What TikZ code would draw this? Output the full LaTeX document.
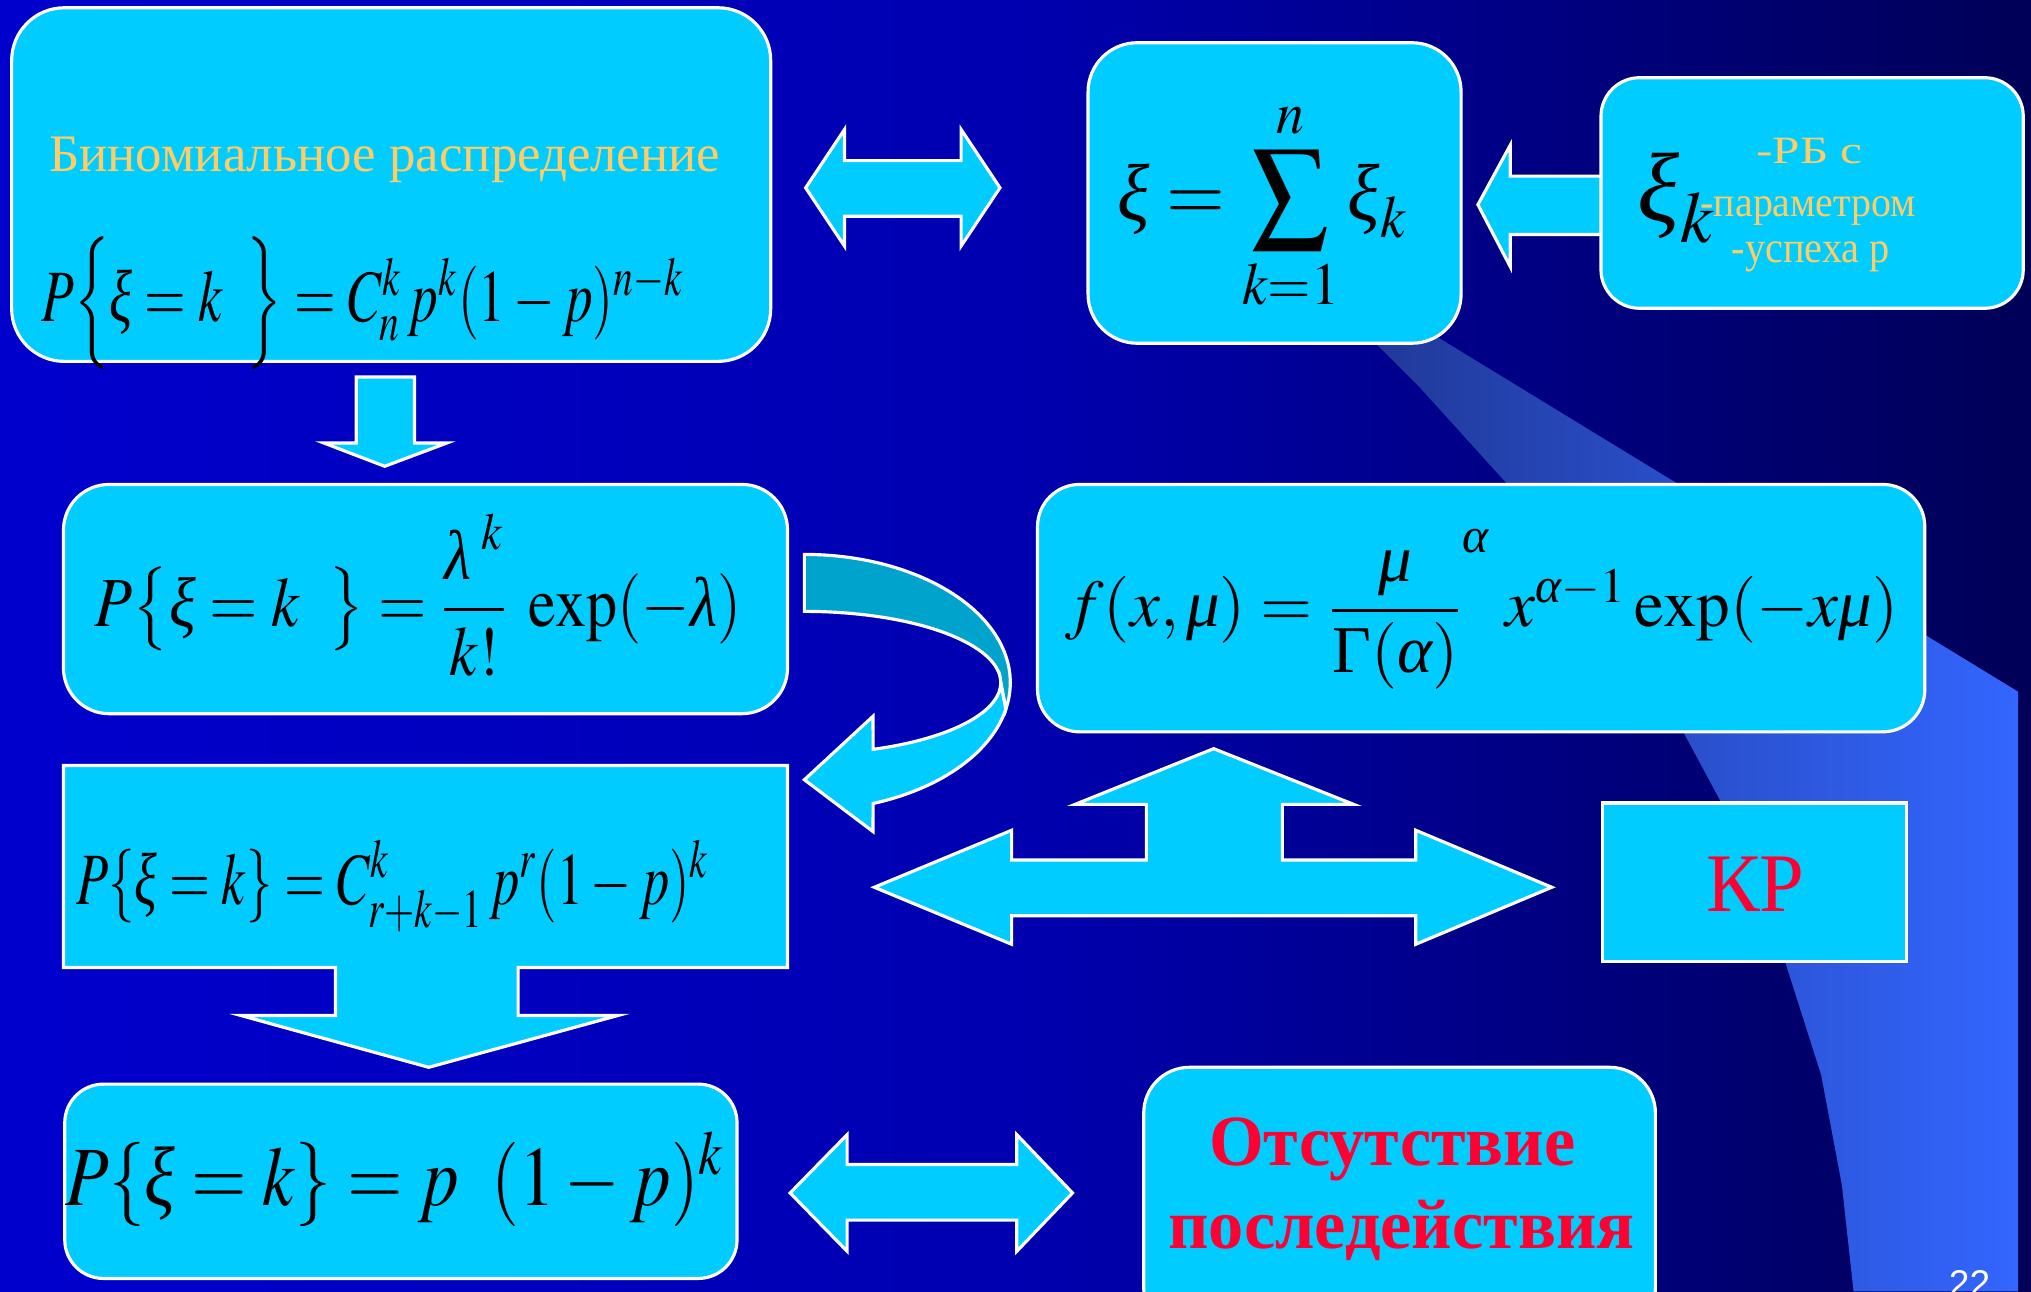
\documentclass[tikz,border=0pt]{standalone}
\usepackage{amsmath}
\usepackage{mathptmx}
\usepackage{fontspec}
\setmainfont{Liberation Serif}
\setsansfont{Liberation Sans}
\usetikzlibrary{positioning, fit}

\definecolor{skycyan}{RGB}{0,204,255}
\definecolor{backcyan}{RGB}{0,163,204}
\definecolor{peach}{RGB}{255,204,102}
\definecolor{alertred}{RGB}{255,0,51}
\definecolor{wedgeblue}{RGB}{51,102,255}
\definecolor{wedgedark}{RGB}{32,56,150}

\pgfdeclarehorizontalshading{slidebg}{100bp}{rgb(0bp)=(0,0,0.92); rgb(50bp)=(0,0,0.69); rgb(70bp)=(0,0,0.41); rgb(85bp)=(0,0,0.2); rgb(100bp)=(0,0,0.02)}

% text squeezed or stretched to a given width, height kept
\newcommand{\fitw}[2]{\resizebox{#1}{\height}{#2}}
% italic Greek from the text font
\newcommand{\gxi}{\text{\itshape ξ}}
\newcommand{\glam}{\text{\itshape λ}}
\newcommand{\gmu}{\text{\itshape μ}}
\newcommand{\galpha}{\text{\itshape α}}
\newcommand{\gGamma}{\text{Γ}}

\tikzset{
  card/.style={fill=skycyan, draw=white, line width=0.9pt, rounded corners=13pt, inner sep=0pt},
  flatcard/.style={fill=skycyan, draw=white, line width=0.9pt, inner sep=0pt},
  blockarrow/.style={fill=skycyan, draw=white, line width=0.9pt},
  formula/.style={inner sep=0pt, text=black},
  caption/.style={inner sep=0pt, text=peach},
  alert/.style={inner sep=0pt, text=alertred}
}

\begin{document}
\begin{tikzpicture}[x=0.012953cm, y=-0.012953cm]
  \useasboundingbox (0,0) rectangle (1568,997);
  \clip (0,0) rectangle (1568,997);
  % background
  \shade[shading=slidebg] (0,0) rectangle (1568,997);
  \shade[left color=wedgedark, middle color=wedgeblue, right color=wedgeblue]
    (1047,250) -- (1093,250) -- (1558,534) -- (1558,997) -- (1431,997) -- (1422,915)
    -- (1406,830) -- (1378,742) -- (1328,618) -- (1300,566) -- (1163,373) -- (1096,299) -- cycle;

  % top row
  \node[card, rounded corners=15pt, fit={(9,6) (595,279)}] (binom) {};
  \node[card, rounded corners=14pt, fit={(840,33) (1128,265)}] (sum) {};
  \filldraw[blockarrow] (1141,158) -- (1166,112) -- (1166,136) -- (1250,136)
    -- (1250,181) -- (1166,181) -- (1166,206) -- cycle;
  \node[card, rounded corners=11pt, fit={(1236,60) (1562,238)}] (bern) {};
  \filldraw[blockarrow] (622,145) -- (652,100) -- (652,124) -- (742,124) -- (742,100)
    -- (772,145) -- (742,190) -- (742,167) -- (652,167) -- (652,190) -- cycle;
  \filldraw[blockarrow] (275,291) -- (320,291) -- (320,342) -- (345,342) -- (297,360)
    -- (250,342) -- (275,342) -- cycle;

  % middle rows
  \node[card, fit={(49,374) (608,551)}] (poisson) {};
  \filldraw[blockarrow, fill=backcyan]
    plot[domain=90:-12, samples=40] ({621+159*cos(\x)},{527-99*sin(\x)})
    -- plot[domain=0:90, samples=40] ({621+151.6*cos(\x)},{527-55*sin(\x)}) -- cycle;
  \filldraw[blockarrow]
    plot[domain=-12:-70.5, samples=40] ({621+159*cos(\x)},{527-99*sin(\x)})
    -- (674,642) -- (621,602) -- (674,553)
    -- plot[domain=-69.5:0, samples=40] ({621+151.6*cos(\x)},{527-55*sin(\x)}) -- cycle;
  \filldraw[blockarrow] (49,591) -- (608,591) -- (608,747) -- (400,747) -- (400,784)
    -- (477,784) -- (331,824) -- (186,784) -- (259,784) -- (259,747) -- (49,747) -- cycle;
  \node[card, rounded corners=12pt, fit={(801,374) (1486,565)}] (gamma) {};
  \filldraw[blockarrow] (675,685) -- (781,641) -- (781,664) -- (885,664) -- (885,621)
    -- (830,621) -- (937,578) -- (1045,621) -- (990,621) -- (990,664) -- (1093,664)
    -- (1093,641) -- (1198,685) -- (1093,729) -- (1093,707) -- (781,707) -- (781,729) -- cycle;
  \node[flatcard, fit={(1237,620) (1472,742)}] (kr) {};

  % bottom row
  \node[card, rounded corners=11pt, fit={(50,837) (569,987)}] (geom) {};
  \filldraw[blockarrow] (610,921) -- (654,876) -- (654,899) -- (785,899) -- (785,876)
    -- (828,921) -- (785,966) -- (785,942) -- (654,942) -- (654,966) -- cycle;
  \node[card, fit={(883,824) (1278,1030)}] (noaft) {};

  % texts
  \node[caption, anchor=base west, font=\fontsize{15}{18}\selectfont] (binomtitle) at (37.4,132.6)
    {\fitw{191pt}{Биномиальное распределение}};
  \node[formula, anchor=base west, font=\fontsize{21}{25}\selectfont] (binomf) at (31.5,248.5)
    {\fitw{182.8pt}{$P\Bigl\{\gxi=k\;\;\Bigr\}=C_n^k\,p^k(1-p)^{n-k}$}};
  \node[formula, anchor=base west, font=\fontsize{23}{28}\selectfont] (sumf) at (862,170)
    {\fitw{82.6pt}{$\gxi=\displaystyle\sum_{k=1}^{n}\gxi_k$}};
  \node[formula, anchor=base west, font=\fontsize{28}{34}\selectfont] (xik) at (1264,171)
    {\fitw{22pt}{$\gxi_k$}};
  \node[caption, anchor=base, font=\fontsize{11}{13}\selectfont] (rb1) at (1397,126) {\fitw{30.2pt}{-РБ с}};
  \node[caption, anchor=base, font=\fontsize{12}{14}\selectfont] (rb2) at (1396,167.5) {\fitw{61.2pt}{-параметром}};
  \node[caption, anchor=base, font=\fontsize{12.5}{15}\selectfont] (rb3) at (1398,203) {\fitw{45pt}{-успеха p}};
  \node[formula, anchor=base west, font=\fontsize{20}{24}\selectfont] (poissonf) at (72.7,484)
    {\fitw{184pt}{$P\bigl\{\gxi=k\;\;\bigr\}=\dfrac{\glam^{\;k}}{k!}\;\exp(-\glam)$}};
  \node[formula, anchor=base west, font=\fontsize{21}{25}\selectfont] (negbinf) at (58.5,698)
    {\fitw{180pt}{$P\{\gxi=k\}=C_{r+k-1}^{k}\,p^{r}(1-p)^{k}$}};
  \node[formula, anchor=base west, font=\fontsize{19}{23}\selectfont] (gammaf) at (822,484)
    {\fitw{237pt}{$f(x,\gmu)={\dfrac{\gmu}{\gGamma(\galpha)}}^{\raisebox{5pt}{$\scriptstyle\galpha$}}\;x^{\galpha-1}\exp(-x\gmu)$}};
  \node[alert, anchor=base west, font=\fontsize{23.7}{28}\selectfont] (krtext) at (1316.6,704) {\fitw{28pt}{КР}};
  \node[formula, anchor=base west, font=\fontsize{24}{29}\selectfont] (geomf) at (50,930.5)
    {\fitw{187.6pt}{$P\{\gxi=k\}=p\;\;(1-p)^{k}$}};
  \node[alert, anchor=base, font=\bfseries\fontsize{20.5}{25}\selectfont] (noaft1) at (1075,900)
    {\fitw{104.3pt}{Отсутствие}};
  \node[alert, anchor=base, font=\bfseries\fontsize{20}{24}\selectfont] (noaft2) at (1082,963.7)
    {\fitw{132.7pt}{последействия}};
  \node[inner sep=0pt, anchor=north west, text=white, font=\sffamily\fontsize{10.6}{13}\selectfont] (pagenum) at (1504,980) {22};
\end{tikzpicture}
\end{document}
